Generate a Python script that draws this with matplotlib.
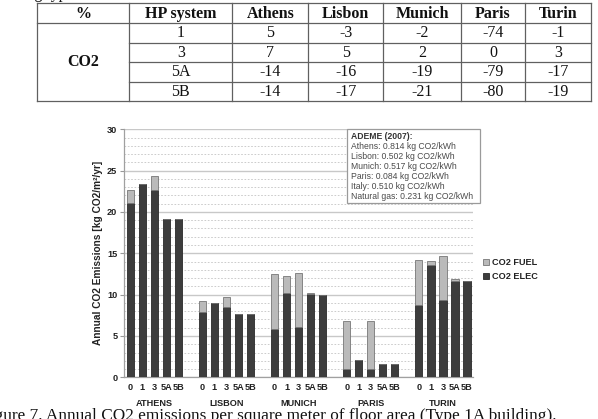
import matplotlib
matplotlib.use("Agg")
import matplotlib.pyplot as plt
from matplotlib.patches import Rectangle, Patch

# --- data --------------------------------------------------------------
cities = ["ATHENS", "LISBON", "MUNICH", "PARIS", "TURIN"]
systems = ["0", "1", "3", "5A", "5B"]
# kg CO2/m2/yr, one list per city in order of systems
co2_elec = [
    [21.1, 23.4, 22.7, 19.1, 19.1],
    [7.9, 9.0, 8.5, 7.7, 7.6],
    [5.8, 10.2, 6.1, 10.1, 10.0],
    [1.0, 2.1, 1.0, 1.65, 1.6],
    [8.8, 13.6, 9.4, 11.6, 11.6],
]
co2_fuel = [
    [1.6, 0.0, 1.6, 0.0, 0.0],
    [1.35, 0.0, 1.2, 0.0, 0.0],
    [6.65, 2.1, 6.5, 0.05, 0.0],
    [5.75, 0.0, 5.75, 0.0, 0.0],
    [5.4, 0.45, 5.25, 0.25, 0.0],
]
ademe_title = "ADEME (2007):"
ademe_lines = [
    "Athens: 0.814 kg CO2/kWh",
    "Lisbon: 0.502 kg CO2/kWh",
    "Munich: 0.517 kg CO2/kWh",
    "Paris: 0.084 kg CO2/kWh",
    "Italy: 0.510 kg CO2/kWh",
    "Natural gas: 0.231 kg CO2/kWh",
]
# table above the chart (% change vs system 0)
tab_header = ["%", "HP system", "Athens", "Lisbon", "Munich", "Paris", "Turin"]
tab_rowname = "CO2"
tab_systems = ["1", "3", "5A", "5B"]
tab_values = [
    [5, -3, -2, -74, -1],
    [7, 5, 2, 0, 3],
    [-14, -16, -19, -79, -17],
    [-14, -17, -21, -80, -19],
]
caption = "Figure 7. Annual CO2 emissions per square meter of floor area (Type 1A building)."

W, H = 598, 419
fig = plt.figure(figsize=(W / 100, H / 100), dpi=100)
fig.patch.set_facecolor("white")

# page-level axes in pixel coords (table + caption)
page = fig.add_axes([0, 0, 1, 1], zorder=0)
page.set_xlim(0, W); page.set_ylim(H, 0); page.axis("off")

serif = "Liberation Serif"
sans = "Liberation Sans"
line_c = "#606060"
ink = "#111"

# partial line of text cut off by the top edge
page.text(22, -1.5, "ing types", family=serif, fontsize=11.5, va="baseline", ha="left", color=ink)

cols = [36.7, 129.3, 232.3, 308.3, 383.3, 461, 525, 590.7]
rows = [3.5, 22.7, 42.7, 62.3, 81.7, 101]
lw = 0.9
for x in cols:
    page.plot([x, x], [rows[0], rows[-1]], color=line_c, lw=lw)
page.plot([cols[0], cols[-1]], [rows[0], rows[0]], color=line_c, lw=lw)
page.plot([cols[0], cols[-1]], [rows[1], rows[1]], color=line_c, lw=lw)
page.plot([cols[0], cols[-1]], [rows[-1], rows[-1]], color=line_c, lw=lw)
for y in rows[2:-1]:
    page.plot([cols[1], cols[-1]], [y, y], color=line_c, lw=lw)
for i, h in enumerate(tab_header):
    page.text((cols[i] + cols[i + 1]) / 2, (rows[0] + rows[1]) / 2 + 0.5, h, family=serif,
              fontsize=11.5, fontweight="bold", ha="center", va="center", color=ink)
page.text((cols[0] + cols[1]) / 2, (rows[1] + rows[-1]) / 2, tab_rowname, family=serif,
          fontsize=11.5, fontweight="bold", ha="center", va="center", color=ink)
for r, (s, vals) in enumerate(zip(tab_systems, tab_values)):
    yc = (rows[r + 1] + rows[r + 2]) / 2 + 0.5
    page.text((cols[1] + cols[2]) / 2, yc, s, family=serif, fontsize=11.5,
              ha="center", va="center", color=ink)
    for c, v in enumerate(vals):
        page.text((cols[c + 2] + cols[c + 3]) / 2, yc, str(v), family=serif, fontsize=11.5,
                  ha="center", va="center", color=ink)

page.text(556, 419.5, caption, family=serif, fontsize=12.45, ha="right", va="baseline", color=ink)

# --- chart -------------------------------------------------------------
ax = fig.add_axes([124.3 / W, 1 - 377.3 / H, 348.7 / W, 248 / H], zorder=1)
ax.set_facecolor("white")
fs = 6.6
bw = 0.6
elec_c, fuel_c = "#3d3d3d", "#bababa"
for g, city in enumerate(cities):
    xs = [g * 6 + i for i in range(len(systems))]
    ax.bar(xs, co2_elec[g], bw, color=elec_c, edgecolor="#2a2a2a", lw=0.6, zorder=3)
    ax.bar(xs, co2_fuel[g], bw, bottom=co2_elec[g], color=fuel_c, edgecolor="#777", lw=0.6, zorder=3)
    ax.annotate(city, xy=(xs[2], 0), xycoords=("data", "axes fraction"), xytext=(0, -18.7),
                textcoords="offset points", ha="center", va="center", family=sans,
                fontsize=fs, fontweight="bold", color="#222")

ax.set_xlim(-0.5, 28.5)
ax.set_ylim(0, 30)
ax.set_xticks([g * 6 + i for g in range(len(cities)) for i in range(len(systems))])
ax.set_xticklabels(systems * len(cities), family=sans, fontsize=fs, fontweight="bold", color="#222")
ax.tick_params(axis="x", length=0, pad=4.0)
ax.set_yticks(range(0, 31, 5))
ax.set_yticks(range(0, 31), minor=True)
ax.set_yticklabels([str(v) for v in range(0, 31, 5)], family=sans, fontsize=fs, fontweight="bold", color="#222")
ax.tick_params(axis="y", which="major", length=3, color="#999", pad=2)
ax.tick_params(axis="y", which="minor", length=0)
ax.grid(axis="y", which="major", color="#c8c8c8", lw=1.0, zorder=0)
ax.grid(axis="y", which="minor", color="#c4c4c4", lw=0.6, ls=(0, (2, 2)), zorder=0)
ax.set_axisbelow(True)
for s in ["top", "right"]:
    ax.spines[s].set_visible(False)
for s in ["left", "bottom"]:
    ax.spines[s].set_color("#a0a0a0")
    ax.spines[s].set_linewidth(0.9)
ax.set_ylabel("Annual CO2 Emissions [kg CO2/m²/yr]", family=sans, fontsize=7.3,
              fontweight="bold", color="#222", labelpad=3)

# ADEME box (drawn in page pixel coords, above the chart)
ax.add_patch(Rectangle((346.7, 129.3), 133.3, 74, transform=page.transData, clip_on=False,
                       facecolor="white", edgecolor="#9a9a9a", lw=0.9, zorder=5))
ax.text(351, 136, ademe_title, transform=page.transData, family=sans, fontsize=6.25,
        fontweight="bold", color="#333", va="center", ha="left", zorder=6, clip_on=False)
for i, t in enumerate(ademe_lines):
    ax.text(351, 146 + i * 10.1, t, transform=page.transData, family=sans, fontsize=6.25,
            color="#4a4a4a", va="center", ha="left", zorder=6, clip_on=False)

handles = [Patch(facecolor=fuel_c, edgecolor="#777", lw=0.6, label="CO2 FUEL"),
           Patch(facecolor=elec_c, edgecolor="#2a2a2a", lw=0.6, label="CO2 ELEC")]
leg = ax.legend(handles=handles, loc="center left", bbox_to_anchor=(483 / W, 1 - 269.5 / H),
                bbox_transform=fig.transFigure, frameon=False, handlelength=0.65, handleheight=0.65,
                handletextpad=0.3, borderpad=0, borderaxespad=0, labelspacing=0.5,
                prop={"family": sans, "size": fs, "weight": "bold"})
for t in leg.get_texts():
    t.set_color("#222")

fig.savefig("out.png", dpi=100)
